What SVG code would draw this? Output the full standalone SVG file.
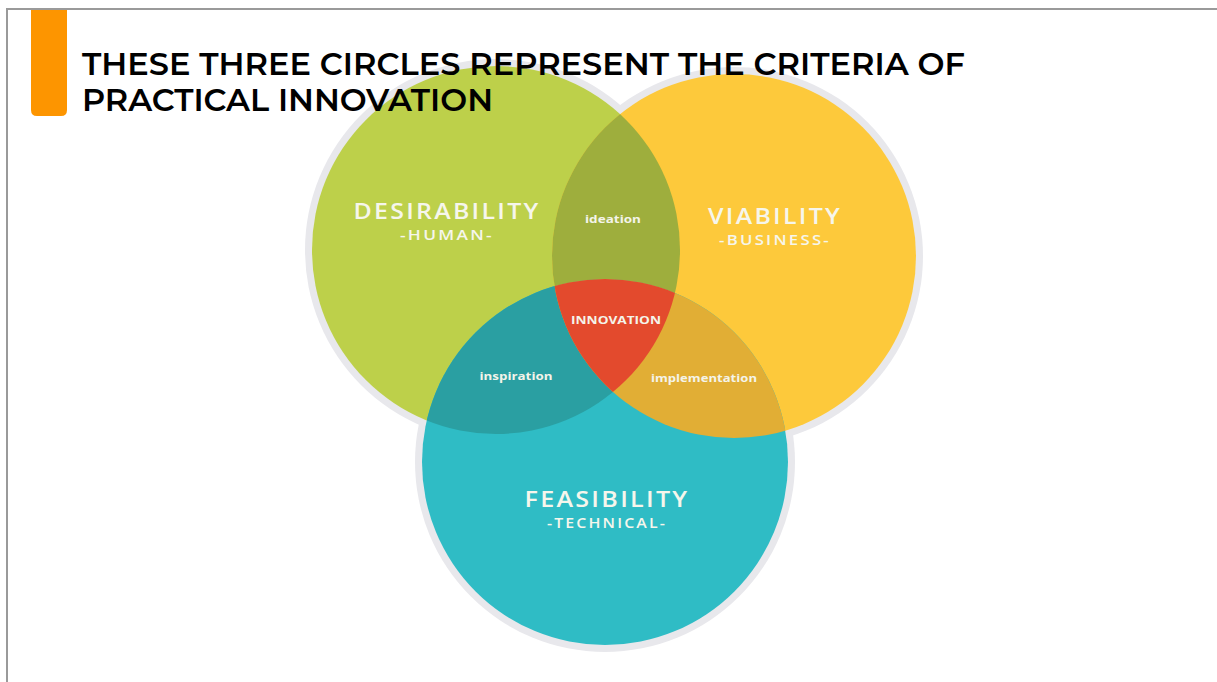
<svg xmlns="http://www.w3.org/2000/svg" width="1217" height="682" viewBox="0 0 1217 682">
  <style>
    .title { font-family: "Montserrat", "Open Sans", "Liberation Sans", sans-serif; font-size: 31px; fill: #000; font-weight: 600; }
    .big { font-family: "Open Sans", "Liberation Sans", sans-serif; font-size: 22px; font-weight: 600; fill: #f6f6ec; text-anchor: middle; letter-spacing: 2px; }
    .sub { font-family: "Open Sans", "Liberation Sans", sans-serif; font-size: 15px; font-weight: 600; fill: #f6f6ec; text-anchor: middle; letter-spacing: 2px; }
    .small { font-family: "Open Sans", "Liberation Sans", sans-serif; font-size: 11px; font-weight: 700; fill: #f4f4ea; text-anchor: middle; }
    .halo { fill: #e8e8ec; }
  </style>
  <defs>
    <clipPath id="clipGreen"><circle cx="496" cy="250" r="184"/></clipPath>
    <clipPath id="clipYellow"><circle cx="734" cy="256" r="182"/></clipPath>
  </defs>

  <!-- slide background and frame -->
  <rect width="1217" height="682" fill="#ffffff"/>
  <path d="M7 682 V9 H1217" fill="none" stroke="#9a9a9a" stroke-width="2"/>

  <!-- accent bar -->
  <path d="M31 10 H67 V110 Q67 116 61 116 H37 Q31 116 31 110 Z" fill="#fd9500"/>

  <!-- soft halos behind circles -->
  <g id="halos">
    <circle class="halo" cx="496" cy="250" r="191"/>
    <circle class="halo" cx="734" cy="256" r="189"/>
    <circle class="halo" cx="605" cy="462" r="190"/>
  </g>

  <!-- main circles -->
  <g id="desirability">
    <circle cx="496" cy="250" r="184" fill="#bdd04a"/>
  </g>
  <g id="viability">
    <circle cx="734" cy="256" r="182" fill="#fdc93b"/>
  </g>
  <g id="feasibility">
    <circle cx="605" cy="462" r="183" fill="#2fbcc5"/>
  </g>

  <!-- pairwise overlaps -->
  <g id="ideation">
    <circle cx="734" cy="256" r="182" fill="#9eae3d" clip-path="url(#clipGreen)"/>
  </g>
  <g id="inspiration">
    <circle cx="605" cy="462" r="183" fill="#2a9fa2" clip-path="url(#clipGreen)"/>
  </g>
  <g id="implementation">
    <circle cx="605" cy="462" r="183" fill="#e1ae35" clip-path="url(#clipYellow)"/>
  </g>

  <!-- triple overlap -->
  <g id="innovation" clip-path="url(#clipGreen)">
    <circle cx="605" cy="462" r="183" fill="#e34a2d" clip-path="url(#clipYellow)"/>
  </g>

  <!-- labels -->
  <g id="labels">
    <text class="big" x="447" y="219" textLength="187" lengthAdjust="spacingAndGlyphs">DESIRABILITY</text>
    <text class="sub" x="447" y="240" textLength="94" lengthAdjust="spacingAndGlyphs">-HUMAN-</text>
    <text class="big" x="775" y="224" textLength="134" lengthAdjust="spacingAndGlyphs">VIABILITY</text>
    <text class="sub" x="775" y="245" textLength="112" lengthAdjust="spacingAndGlyphs">-BUSINESS-</text>
    <text class="big" x="607" y="507" textLength="165" lengthAdjust="spacingAndGlyphs">FEASIBILITY</text>
    <text class="sub" x="607" y="528" textLength="120" lengthAdjust="spacingAndGlyphs">-TECHNICAL-</text>
    <text class="small" x="613" y="223" textLength="56" lengthAdjust="spacingAndGlyphs">ideation</text>
    <text class="small" x="616" y="324" textLength="90" lengthAdjust="spacingAndGlyphs">INNOVATION</text>
    <text class="small" x="516" y="380" textLength="73" lengthAdjust="spacingAndGlyphs">inspiration</text>
    <text class="small" x="704" y="382" textLength="106" lengthAdjust="spacingAndGlyphs">implementation</text>
  </g>

  <!-- heading -->
  <g id="heading">
    <text class="title" x="82" y="75" textLength="883" lengthAdjust="spacingAndGlyphs">THESE THREE CIRCLES REPRESENT THE CRITERIA OF</text>
    <text class="title" x="82" y="111" textLength="411" lengthAdjust="spacingAndGlyphs">PRACTICAL INNOVATION</text>
  </g>
</svg>
